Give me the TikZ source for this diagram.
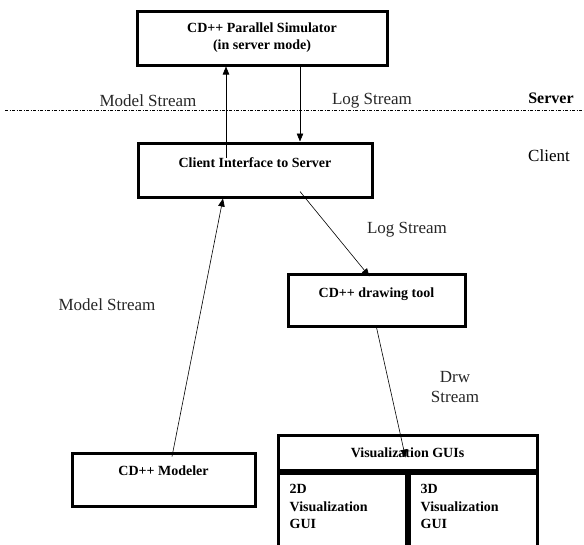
\documentclass[tikz,border=0pt]{standalone}
\usepackage{fontspec}
\setmainfont{Liberation Serif}
\usetikzlibrary{arrows.meta}

\begin{document}
\begin{tikzpicture}[x=1pt, y=-1pt,
    box/.style ={draw, line width=3pt, font=\fontsize{14}{17}\selectfont\bfseries, align=center, inner sep=0pt},
    raised/.style ={text height=10pt, text depth=#1},
    guitext/.style ={font=\fontsize{14}{17.5}\selectfont\bfseries, align=left, inner sep=0pt},
    stream/.style ={draw, line width=0.6pt, -{Triangle[length=8pt,width=6.5pt]}},
    caption/.style ={font=\fontsize{17}{20}\selectfont, text=black!85, align=center},
    side/.style ={font=\fontsize{17}{20}\selectfont}]
   \clip (0,0) rectangle (584,544);

   \node[box, minimum width=250pt, minimum height=54pt] (sim) at (262,38) {CD++ Parallel Simulator\\(in server mode)};
   \node[box, raised=15pt, minimum width=234pt, minimum height=54pt] (client) at (255,170) {Client Interface to Server};
   \node[box, raised=15pt, minimum width=177pt, minimum height=52pt] (tool) at (376.5,300) {CD++ drawing tool};
   \node[box, raised=18pt, minimum width=183pt, minimum height=53pt] (modeler) at (163.5,479.5) {CD++ Modeler};
   \node[box, minimum width=259pt, minimum height=35pt] (viz) at (407.5,452.5) {Visualization GUIs};
   \node[box, minimum width=128pt, minimum height=110pt, anchor=north west] (gui2d) at (viz.south west) {};
   \node[box, minimum width=128pt, minimum height=110pt, anchor=north east] (gui3d) at (viz.south east) {};
   \node[guitext, anchor=north west] (gui2dtext) at ([shift={(13,13)}]gui2d.north west) {2D\\Visualization\\GUI};
   \node[guitext, anchor=north west] (gui3dtext) at ([shift={(13,13)}]gui3d.north west) {3D\\Visualization\\GUI};

   % server / client border
   \coordinate (westend) at (5,110);
   \coordinate (eastend) at (584,110);
   \draw[line width=0.8pt, dash pattern=on 3pt off 1.5pt on 1pt off 1.5pt] (westend) -- (eastend);
   \node[side, font=\fontsize{16}{19}\selectfont\bfseries] (server) at (551,98) {Server};
   \node[side] (clientside) at (549,156) {Client};

   \node[caption] (modelup) at (148,101) {Model Stream};
   \node[caption] (logdown) at (372,101) {Log Stream};
   \node[caption] (logdiag) at (407,230) {Log Stream};
   \node[caption] (drawstream) at (455,387) {Drw\\Stream};
   \node[caption] (modeldiag) at (107,305) {Model Stream};

   \draw[stream] ([shift={(-29,-12)}]client.center) -- ([xshift=-36pt]sim.south);
   \draw[stream] ([xshift=38pt]sim.south) -- ([xshift=38pt]sim.south |- client.north);
   \draw[stream] ([shift={(45,-7)}]client.south) -- ([shift={(-7,4)}]tool.north);
   \draw[stream] (tool.south) -- ([shift={(-2,5)}]viz.center);
   \draw[stream] ([shift={(8.5,5)}]modeler.north) -- ([xshift=-32pt]client.south);
 \end{tikzpicture}
\end{document}
